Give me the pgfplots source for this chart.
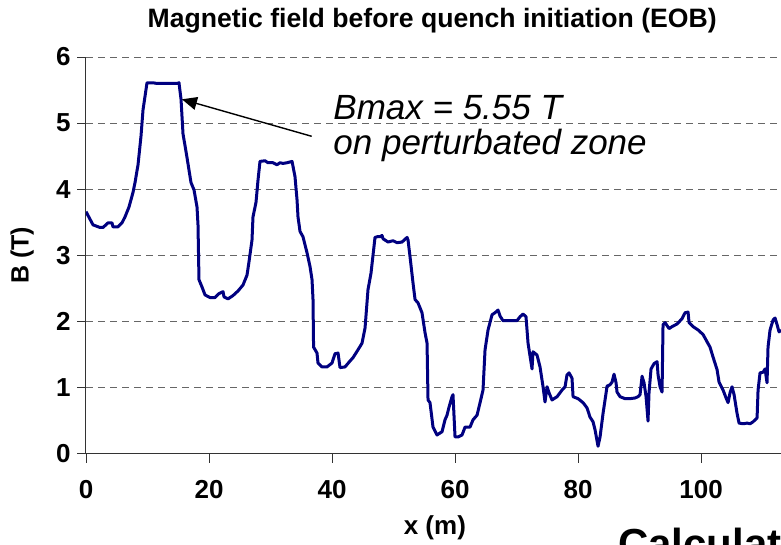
\documentclass[border=0pt]{standalone}
\usepackage{fontspec}
\setmainfont{Liberation Sans}
\usepackage{pgfplots}
\pgfplotsset{compat=1.18}
\usetikzlibrary{arrows.meta}
\definecolor{curve}{RGB}{0,0,128}
\begin{document}
\begin{tikzpicture}
\begin{axis}[
  scale only axis,
  width=695pt, height=396.5pt,
  xmin=0, xmax=113, ymin=0, ymax=6,
  axis x line=bottom, axis y line=left,
  axis line style={-, black!80, line width=1pt},
  xtick={0,20,40,60,80,100},
  ytick={0,1,2,3,4,5,6},
  tick align=outside,
  major tick length=9pt,
  tick style={black!80, line width=0.8pt},
  ymajorgrids,
  major grid style={dash pattern=on 7pt off 5pt, black!60, line width=0.8pt},
  /pgf/number format/assume math mode=true,
  xticklabel style={font=\bfseries\fontsize{26}{26}\selectfont, yshift=-14pt},
  yticklabel style={font=\bfseries\fontsize{26}{26}\selectfont, xshift=-3pt},
  title={Magnetic field before quench initiation (EOB)},
  title style={font=\bfseries\fontsize{26.6}{26.6}\selectfont, at={(axis description cs:0.498,1)}, anchor=base, yshift=24pt},
  xlabel={x (m)},
  xlabel style={font=\bfseries\fontsize{26}{26}\selectfont, at={(axis description cs:0.502,-0.2055)}, anchor=base},
  ylabel={B (T)},
  ylabel style={font=\bfseries\fontsize{25}{25}\selectfont, at={(axis description cs:-0.092,0.5)}, anchor=center, rotate=0},
]
\addplot[curve, line width=3pt, line join=round] coordinates {
(0.00,3.66)(1.14,3.46)(2.28,3.42)(2.76,3.42)(3.58,3.49)(4.23,3.49)(4.39,3.43)(5.20,3.43)
(5.85,3.49)(6.34,3.58)(6.99,3.73)(7.64,3.95)(7.97,4.10)(8.46,4.37)(8.94,4.80)(9.27,5.20)
(9.92,5.61)(10.89,5.61)(11.54,5.60)(14.80,5.60)(15.12,5.61)(15.45,5.36)(15.77,4.84)(16.42,4.48)
(17.07,4.10)(17.56,3.99)(18.05,3.73)(18.21,3.46)(18.37,2.63)(18.86,2.52)(19.35,2.40)(20.16,2.36)
(20.98,2.36)(21.63,2.42)(22.28,2.45)(22.44,2.37)(23.09,2.34)(23.90,2.39)(24.72,2.46)(25.53,2.55)
(26.18,2.70)(26.50,2.90)(26.99,3.23)(27.15,3.58)(27.64,3.80)(27.97,4.14)(28.29,4.42)(29.11,4.43)
(29.59,4.40)(30.41,4.40)(31.06,4.37)(31.54,4.40)(32.03,4.39)(32.68,4.40)(33.50,4.42)(33.98,4.19)
(34.31,3.84)(34.47,3.58)(34.80,3.36)(35.28,3.28)(35.93,3.04)(36.42,2.83)(36.75,2.63)(36.91,2.33)
(37.00,1.61)(37.56,1.52)(37.72,1.37)(38.37,1.31)(39.19,1.31)(40.00,1.37)(40.49,1.51)(40.98,1.52)
(41.30,1.30)(42.11,1.31)(42.93,1.40)(43.41,1.45)(44.23,1.57)(44.88,1.67)(45.37,1.90)(45.85,2.48)
(46.34,2.73)(46.99,3.27)(47.32,3.28)(47.80,3.28)(48.13,3.30)(48.29,3.25)(49.11,3.20)(49.92,3.22)
(50.57,3.19)(51.38,3.20)(52.20,3.27)(52.36,3.23)(52.68,2.98)(53.17,2.58)(53.50,2.33)(53.98,2.28)
(54.63,2.13)(55.12,1.83)(55.45,1.67)(55.61,0.81)(55.93,0.77)(56.42,0.40)(57.07,0.28)(57.89,0.33)
(58.37,0.51)(58.70,0.58)(59.02,0.70)(59.51,0.86)(59.67,0.89)(60.00,0.25)(60.49,0.25)(61.14,0.28)
(61.63,0.40)(62.44,0.40)(62.93,0.51)(63.58,0.58)(64.07,0.77)(64.55,0.96)(64.88,1.57)(65.37,1.87)
(66.02,2.10)(66.50,2.13)(66.99,2.17)(67.32,2.08)(67.80,2.01)(70.08,2.01)(70.57,2.07)(71.06,2.11)
(71.54,2.07)(71.87,1.67)(72.52,1.28)(72.68,1.54)(73.33,1.49)(73.82,1.31)(74.31,1.01)(74.63,0.78)
(74.96,1.01)(75.28,0.92)(75.77,0.81)(76.59,0.86)(77.40,0.96)(77.89,1.01)(78.21,1.19)(78.54,1.22)
(79.02,1.14)(79.19,0.86)(80.00,0.83)(80.81,0.77)(81.46,0.69)(81.95,0.55)(82.44,0.48)(82.76,0.36)
(83.25,0.11)(83.58,0.25)(84.07,0.61)(84.39,0.81)(84.72,1.02)(85.20,1.04)(85.53,1.08)(85.85,1.20)
(86.18,1.07)(86.34,0.93)(86.83,0.86)(87.64,0.83)(88.46,0.83)(89.27,0.84)(89.76,0.86)(90.08,0.89)
(90.41,1.17)(90.73,1.07)(91.06,0.86)(91.38,0.49)(91.54,0.92)(91.87,1.28)(92.36,1.36)(92.85,1.39)
(93.01,1.19)(93.33,1.01)(93.66,0.93)(93.82,1.95)(94.15,1.98)(94.80,1.89)(95.28,1.92)(96.10,1.96)
(96.91,2.04)(97.40,2.13)(97.89,2.14)(98.05,1.98)(98.70,1.92)(99.51,1.87)(100.33,1.80)(100.98,1.69)
(101.46,1.61)(101.95,1.46)(102.60,1.27)(102.93,1.08)(103.58,0.96)(104.07,0.84)(104.39,0.77)(104.72,0.92)
(105.04,1.01)(105.37,0.89)(105.85,0.61)(106.18,0.46)(106.83,0.45)(107.48,0.46)(107.97,0.45)(108.46,0.48)
(109.11,0.54)(109.27,0.96)(109.59,1.22)(110.08,1.23)(110.41,1.28)(110.73,1.07)(110.89,1.61)(111.22,1.87)
(111.71,2.02)(112.03,2.05)(112.36,1.95)(112.68,1.84)(113.01,1.87)
};
\draw[black, line width=1.4pt, -{Triangle[length=15pt,width=13pt]}] (axis cs:36.7,4.80) -- (axis cs:15.6,5.36);
\node[anchor=base west, inner sep=0pt, font=\itshape\fontsize{35}{35}\selectfont] at (axis cs:40.2,5.05) {Bmax = 5.55 T};
\node[anchor=base west, inner sep=0pt, font=\itshape\fontsize{35}{35}\selectfont] at (axis cs:40.2,4.52) {on perturbated zone};
\end{axis}
\node[anchor=base west, inner sep=0pt, font=\bfseries\fontsize{42}{42}\selectfont] at (532pt,-104.5pt) {Calculation};
\pgfresetboundingbox
\useasboundingbox (-86pt,-90.5pt) rectangle (695pt,453.5pt);
\end{tikzpicture}
\end{document}
